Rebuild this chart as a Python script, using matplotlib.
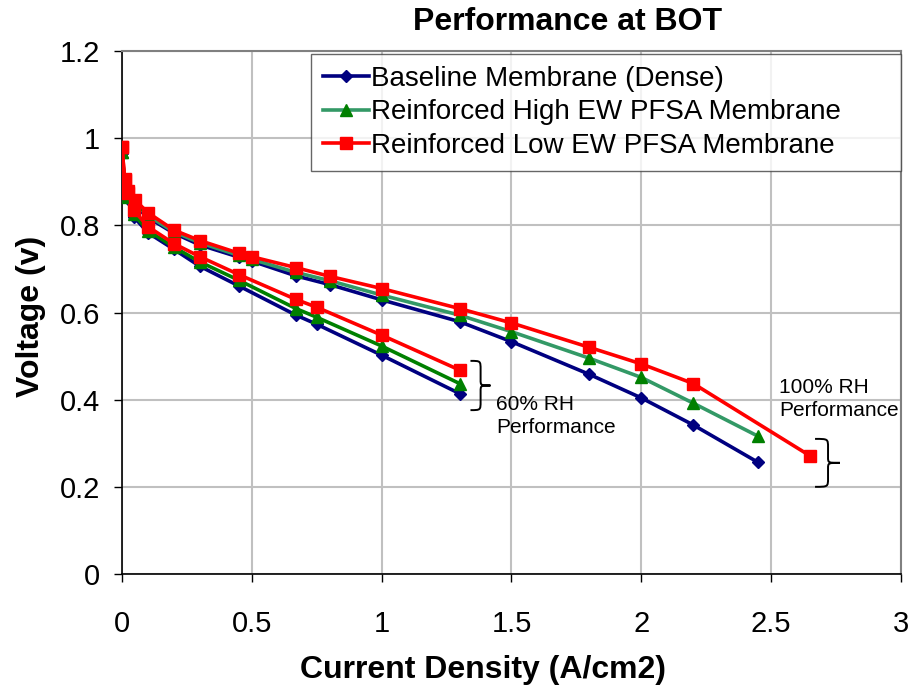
import matplotlib
matplotlib.use("Agg")
import matplotlib.pyplot as plt
from matplotlib.path import Path
from matplotlib.patches import PathPatch

plt.rcParams['font.family'] = ['Liberation Sans', 'DejaVu Sans']

# 100% RH polarization curves
x_100 = [0, 0.01, 0.025, 0.05, 0.1, 0.2, 0.3, 0.45, 0.5, 0.67, 0.8, 1.0, 1.3, 1.5, 1.8, 2.0, 2.2]
baseline_100 = [0.965, 0.895, 0.865, 0.845, 0.818, 0.782, 0.755, 0.727, 0.718, 0.684, 0.664, 0.629,
                0.579, 0.533, 0.458, 0.404, 0.342]
high_ew_100 = [0.968, 0.900, 0.870, 0.850, 0.822, 0.785, 0.760, 0.731, 0.722, 0.692, 0.673, 0.640,
               0.594, 0.556, 0.495, 0.451, 0.392]
low_ew_100 = [0.980, 0.907, 0.878, 0.858, 0.829, 0.789, 0.765, 0.736, 0.728, 0.703, 0.683, 0.655,
              0.609, 0.576, 0.520, 0.482, 0.437]
# last points differ per membrane
end_x = {'baseline': 2.45, 'high': 2.45, 'low': 2.65}
end_v = {'baseline': 0.256, 'high': 0.316, 'low': 0.271}

# 60% RH polarization curves
x_60 = [0, 0.01, 0.025, 0.045, 0.1, 0.2, 0.3, 0.45, 0.67, 0.75, 1.0, 1.3]
baseline_60 = [0.965, 0.892, 0.860, 0.820, 0.783, 0.745, 0.706, 0.661, 0.594, 0.573, 0.502, 0.414]
high_ew_60 = [0.968, 0.897, 0.865, 0.825, 0.788, 0.750, 0.716, 0.674, 0.609, 0.589, 0.523, 0.437]
low_ew_60 = [0.980, 0.905, 0.875, 0.835, 0.797, 0.758, 0.728, 0.687, 0.630, 0.612, 0.548, 0.468]

labels = ['Baseline Membrane (Dense)', 'Reinforced High EW PFSA Membrane', 'Reinforced Low EW PFSA Membrane']

navy = '#000080'
green = '#008000'
seagreen = '#339966'
red = '#FF0000'

fig = plt.figure(figsize=(9.1, 6.89), dpi=100)
ax = fig.add_axes([122 / 910, 1 - 574 / 689, (901 - 122) / 910, (574 - 51) / 689])

lw = 2.6
# baseline
h1, = ax.plot(x_100 + [end_x['baseline']], baseline_100 + [end_v['baseline']], color=navy, lw=lw,
              marker='D', ms=6.5, mfc=navy, mec=navy, zorder=3, label=labels[0])
ax.plot(x_60, baseline_60, color=navy, lw=lw, marker='D', ms=6.5, mfc=navy, mec=navy, zorder=3)
# high EW
h2, = ax.plot(x_100 + [end_x['high']], high_ew_100 + [end_v['high']], color=seagreen, lw=lw,
              marker='^', ms=9, mfc=green, mec=green, zorder=4, label=labels[1])
ax.plot(x_60, high_ew_60, color=green, lw=lw, marker='^', ms=9, mfc=green, mec=green, zorder=4)
# low EW
h3, = ax.plot(x_100 + [end_x['low']], low_ew_100 + [end_v['low']], color=red, lw=lw,
              marker='s', ms=8, mfc=red, mec=red, zorder=5, label=labels[2])
ax.plot(x_60, low_ew_60, color=red, lw=lw, marker='s', ms=8, mfc=red, mec=red, zorder=5)

ax.set_xlim(0, 3)
ax.set_ylim(0, 1.2)
ax.set_xticks([0, 0.5, 1, 1.5, 2, 2.5, 3])
ax.set_xticklabels(['0', '0.5', '1', '1.5', '2', '2.5', '3'])
ax.set_yticks([0, 0.2, 0.4, 0.6, 0.8, 1.0, 1.2])
ax.set_yticklabels(['0', '0.2', '0.4', '0.6', '0.8', '1', '1.2'])
ax.grid(True, color='#c0c0c0', lw=1.5)
ax.set_axisbelow(True)
ax.tick_params(axis='both', direction='out', length=6, width=1, labelsize=21)
ax.tick_params(axis='x', pad=20)
ax.tick_params(axis='y', pad=10)
for s in ['left', 'bottom']:
    ax.spines[s].set_color('black')
    ax.spines[s].set_linewidth(1.2)
for s in ['top', 'right']:
    ax.spines[s].set_color('#808080')
    ax.spines[s].set_linewidth(1.5)

ax.set_xlabel('Current Density (A/cm2)', fontsize=23, fontweight='bold')
ax.xaxis.set_label_coords((483 - 122) / 779, (574 - 670) / 523)
ax.xaxis.label.set_va('center')
ax.set_ylabel('Voltage (v)', fontsize=23, fontweight='bold')
ax.yaxis.set_label_coords((31 - 122) / 779, (574 - 316) / 523)
ax.yaxis.label.set_va('center')
fig.text(568 / 910, 1 - 22 / 689, 'Performance at BOT', fontsize=23, fontweight='bold',
         ha='center', va='center')

leg = ax.legend(handles=[h1, h2, h3], loc='upper left',
                bbox_to_anchor=((311 - 122) / 779, 0, (901 - 311) / 779, (574 - 54) / 523),
                mode='expand', fontsize=20, frameon=True, fancybox=False, edgecolor='#404040',
                handlelength=1.65, handletextpad=0.1, labelspacing=0.28, borderpad=0.42,
                borderaxespad=0)
leg.get_frame().set_linewidth(1.0)
leg.set_zorder(10)


def brace(x_left, x_spine, x_tip, y_top, y_bot):
    h = y_top - y_bot
    ym = (y_top + y_bot) / 2
    verts = [
        (x_left, y_top),
        (x_spine, y_top), (x_spine, y_top), (x_spine, y_top - 0.18 * h),
        (x_spine, ym + 0.12 * h),
        (x_spine, ym), (x_spine, ym), (x_tip, ym),
        (x_spine, ym), (x_spine, ym), (x_spine, ym - 0.12 * h),
        (x_spine, y_bot + 0.18 * h),
        (x_spine, y_bot), (x_spine, y_bot), (x_left, y_bot),
    ]
    codes = [Path.MOVETO,
             Path.CURVE4, Path.CURVE4, Path.CURVE4,
             Path.LINETO,
             Path.CURVE4, Path.CURVE4, Path.CURVE4,
             Path.CURVE4, Path.CURVE4, Path.CURVE4,
             Path.LINETO,
             Path.CURVE4, Path.CURVE4, Path.CURVE4]
    ax.add_patch(PathPatch(Path(verts, codes), fill=False, lw=1.4, color='black', zorder=6,
                           clip_on=False))


brace(1.342, 1.381, 1.419, 0.489, 0.376)
brace(2.669, 2.719, 2.765, 0.310, 0.200)

ax.text(1.44, 0.362, '60% RH\nPerformance', fontsize=15, ha='left', va='center',
        linespacing=1.3, zorder=6)
ax.text(2.53, 0.401, '100% RH\nPerformance', fontsize=15, ha='left', va='center',
        linespacing=1.3, zorder=6)

fig.savefig('out.png', dpi=100)
